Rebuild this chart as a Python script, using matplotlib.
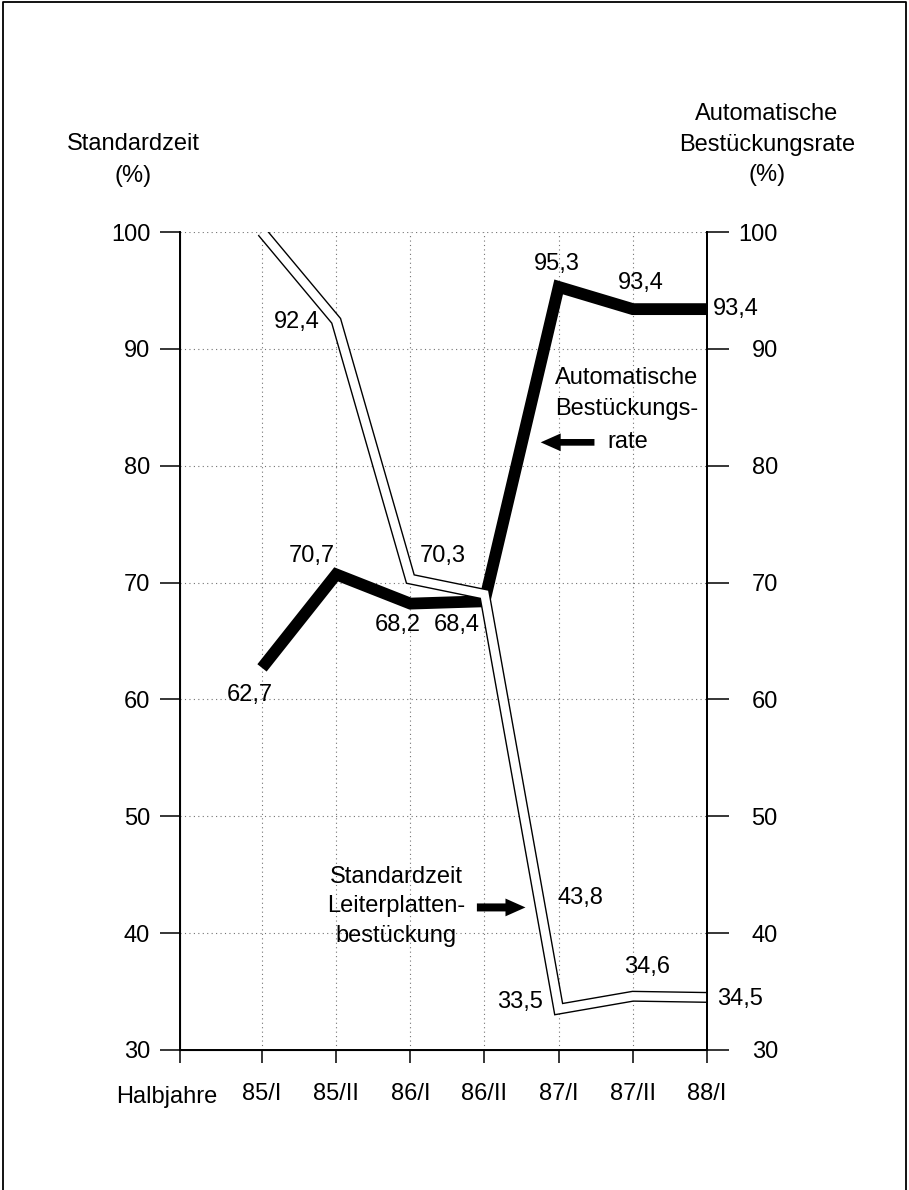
import numpy as np
import matplotlib.pyplot as plt
from matplotlib.lines import Line2D
from matplotlib.patches import FancyArrowPatch

plt.rcParams['font.family'] = ['Liberation Sans', 'DejaVu Sans']

#%% data
halbjahre = ["85/I", "85/II", "86/I", "86/II", "87/I", "87/II", "88/I"]
standardzeit = [100.0, 92.4, 70.3, 69.0, 33.5, 34.6, 34.5]
bestueckungsrate = [62.7, 70.7, 68.2, 68.4, 95.3, 93.4, 93.4]

std_labels = ["92,4", "70,3", "43,8", "33,5", "34,6", "34,5"]
rate_labels = ["62,7", "70,7", "68,2", "68,4", "95,3", "93,4", "93,4"]

y_ticks = [30, 40, 50, 60, 70, 80, 90, 100]

# label placement (x in category index, y in %), kept apart from the data
std_label_pos = [(0.47, 92.3, "center"), (2.44, 72.3, "center"), (4.29, 43.0, "center"),
                 (3.48, 34.1, "center"), (5.19, 37.1, "center"), (6.13, 34.4, "left")]
rate_label_pos = [(-0.16, 60.4, "center"), (0.67, 72.3, "center"), (1.83, 66.4, "center"),
                  (2.63, 66.4, "center"), (3.98, 97.3, "center"), (5.11, 95.6, "center"),
                  (6.08, 93.4, "left")]

W, H = 909, 1190
FS = 17

fig = plt.figure(figsize=(W / 100, H / 100), dpi=100)
ax = fig.add_axes([180 / W, 1 - 1050 / H, (707 - 180) / W, (1050 - 232) / H])
x = np.arange(len(halbjahre))
x_left = (180 - 262) / 74.17

ax.set_xlim(x_left, 6)
ax.set_ylim(30, 100)

# dotted grid
for yv in y_ticks[1:]:
    ax.plot([x_left, 6], [yv, yv], color="0.45", lw=0.8, ls=(0, (1, 3)), zorder=1)
for xv in x[:-1]:
    ax.plot([xv, xv], [30, 100], color="0.45", lw=0.8, ls=(0, (1, 3)), zorder=1)

# automatic placement rate: thick black line
ax.plot(x, bestueckungsrate, color="black", lw=8.5, solid_joinstyle="miter",
        solid_capstyle="butt", zorder=3)
# standard time: hollow double line
ax.plot(x, standardzeit, color="black", lw=8, solid_joinstyle="miter",
        solid_capstyle="butt", zorder=4)
ax.plot(x, standardzeit, color="white", lw=6, solid_joinstyle="miter",
        solid_capstyle="butt", zorder=5)

for txt, (px, py, ha) in zip(std_labels, std_label_pos):
    ax.text(px, py, txt, ha=ha, va="center", fontsize=FS, clip_on=False, zorder=6)
for txt, (px, py, ha) in zip(rate_labels, rate_label_pos):
    ax.text(px, py, txt, ha=ha, va="center", fontsize=FS, clip_on=False, zorder=6)

# annotations with arrows
ax.text(3.95, 86.2, "Automatische\nBestückungs-", ha="left", va="center",
        fontsize=FS, linespacing=1.55, zorder=6)
ax.text(4.66, 82.0, "rate", ha="left", va="center", fontsize=FS, zorder=6)
ax.add_patch(FancyArrowPatch((4.52, 82.0), (3.72, 82.0),
                             arrowstyle="simple,head_length=0.9,head_width=0.8,tail_width=0.3",
                             mutation_scale=16, color="black", lw=0, zorder=6))

ax.text(1.81, 42.3, "Standardzeit\nLeiterplatten-\nbestückung", ha="center", va="center",
        fontsize=FS, linespacing=1.45, zorder=6)
ax.add_patch(FancyArrowPatch((2.86, 42.2), (3.59, 42.2),
                             arrowstyle="simple,head_length=0.9,head_width=0.8,tail_width=0.36",
                             mutation_scale=16, color="black", lw=0, zorder=6))

# axes styling
ax.spines["top"].set_visible(False)
for side in ["left", "right", "bottom"]:
    ax.spines[side].set_linewidth(1.4)
ax.set_yticks(y_ticks)
ax.tick_params(axis="y", length=14.5, width=1.1, pad=7, labelsize=FS)
ax.set_xticks([x_left] + list(x))
ax.set_xticklabels([""] + halbjahre)
ax.tick_params(axis="x", length=9.5, width=1.1, pad=14, labelsize=FS)

ax2 = ax.twinx()
ax2.set_ylim(30, 100)
ax2.set_yticks(y_ticks)
ax2.spines["top"].set_visible(False)
ax2.spines["right"].set_linewidth(1.4)
ax2.tick_params(axis="y", length=16, width=1.1, pad=35, labelsize=FS)
for lab in ax2.get_yticklabels():
    lab.set_ha("right")

# axis headers
fig.text(133 / W, 1 - 160 / H, "Standardzeit\n(%)", ha="center", va="center",
         fontsize=FS, linespacing=1.55)
fig.text(767 / W, 1 - 145 / H, "Automatische\nBestückungsrate\n(%)", ha="center",
         va="center", fontsize=FS, linespacing=1.5)
fig.text(167 / W, 1 - 1097 / H, "Halbjahre", ha="center", va="center", fontsize=FS)

# outer frame
fig.add_artist(Line2D([3 / W, 3 / W, 906 / W, 906 / W],
                      [0.0, 1 - 2 / H, 1 - 2 / H, 0.0],
                      transform=fig.transFigure, color="black", lw=1.3))

fig.savefig("out.png", dpi=100)
